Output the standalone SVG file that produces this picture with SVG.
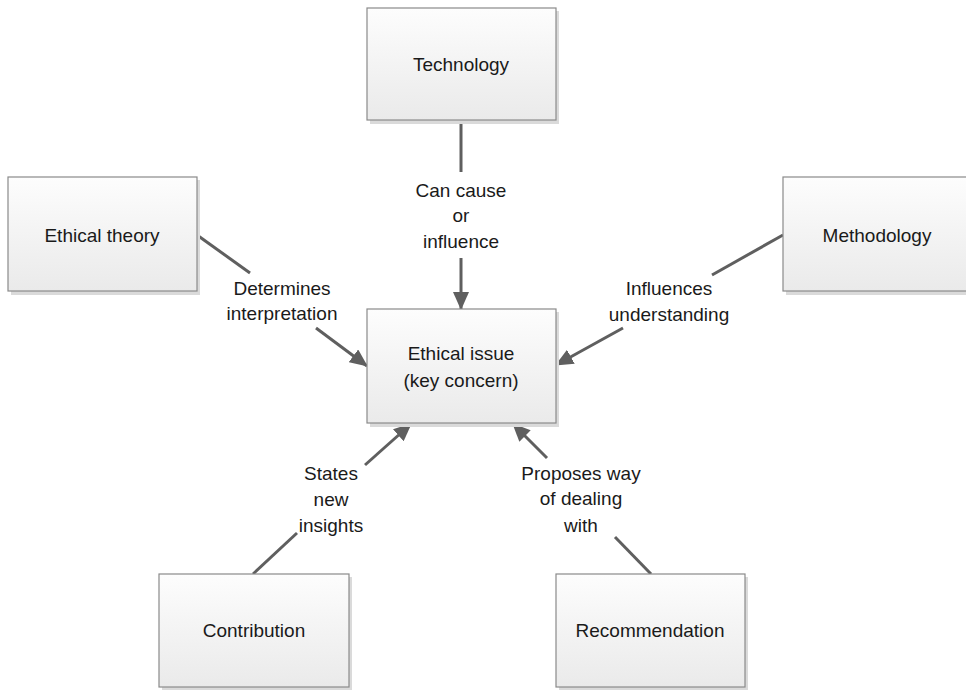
<svg xmlns="http://www.w3.org/2000/svg" width="966" height="690" viewBox="0 0 966 690">
<defs>
<linearGradient id="g" x1="0" y1="0" x2="0" y2="1">
<stop offset="0" stop-color="#fdfdfd"/>
<stop offset="1" stop-color="#eaeaea"/>
</linearGradient>
<marker id="arr" markerWidth="18" markerHeight="16" refX="17" refY="8" orient="auto" markerUnits="userSpaceOnUse">
<path d="M0,0 L18,8 L0,16 z" fill="#5f5f5f"/>
</marker>
<style>
.box{fill:url(#g);stroke:#8a8a8a;stroke-width:1.2}
.sh{fill:#dadada}
.t{font-family:"Liberation Sans",Arial,sans-serif;font-size:19px;fill:#1a1a1a;text-anchor:middle}
.c{stroke:#5f5f5f;stroke-width:3;fill:none}
</style>
</defs>
<g id="connectors">
<line class="c" x1="461" y1="120" x2="461" y2="172"/>
<line class="c" x1="461" y1="258" x2="461" y2="309" marker-end="url(#arr)"/>
<line class="c" x1="197" y1="235" x2="250" y2="273"/>
<line class="c" x1="316" y1="328" x2="367" y2="366" marker-end="url(#arr)"/>
<line class="c" x1="783" y1="235" x2="712" y2="275"/>
<line class="c" x1="623" y1="328" x2="556" y2="365" marker-end="url(#arr)"/>
<line class="c" x1="253" y1="574" x2="297" y2="533"/>
<line class="c" x1="365" y1="465" x2="411" y2="424" marker-end="url(#arr)"/>
<line class="c" x1="651" y1="574" x2="615" y2="537"/>
<line class="c" x1="547" y1="458" x2="513" y2="424" marker-end="url(#arr)"/>
</g>
<g id="labels">
<text class="t" x="461" y="197">Can cause</text>
<text class="t" x="461" y="222">or</text>
<text class="t" x="461" y="248">influence</text>
<text class="t" x="282" y="295">Determines</text>
<text class="t" x="282" y="320">interpretation</text>
<text class="t" x="669" y="295">Influences</text>
<text class="t" x="669" y="321">understanding</text>
<text class="t" x="331" y="480">States</text>
<text class="t" x="331" y="506">new</text>
<text class="t" x="331" y="532">insights</text>
<text class="t" x="581" y="480">Proposes way</text>
<text class="t" x="581" y="505">of dealing</text>
<text class="t" x="581" y="532">with</text>
</g>
<g id="technology">
<rect class="sh" x="370" y="11" width="189" height="113"/>
<rect class="box" x="367" y="8" width="189" height="112"/>
<text class="t" x="461" y="71">Technology</text>
</g>
<g id="ethical-issue">
<rect class="sh" x="370" y="312" width="189" height="115"/>
<rect class="box" x="367" y="309" width="189" height="114"/>
<text class="t" x="461" y="360">Ethical issue</text>
<text class="t" x="461" y="387">(key concern)</text>
</g>
<g id="ethical-theory">
<rect class="sh" x="11" y="180" width="189" height="115"/>
<rect class="box" x="8" y="177" width="189" height="114"/>
<text class="t" x="102" y="242">Ethical theory</text>
</g>
<g id="methodology">
<rect class="sh" x="786" y="180" width="189" height="115"/>
<rect class="box" x="783" y="177" width="189" height="114"/>
<text class="t" x="877" y="242">Methodology</text>
</g>
<g id="contribution">
<rect class="sh" x="162" y="577" width="190" height="114"/>
<rect class="box" x="159" y="574" width="190" height="113"/>
<text class="t" x="254" y="637">Contribution</text>
</g>
<g id="recommendation">
<rect class="sh" x="559" y="577" width="189" height="114"/>
<rect class="box" x="556" y="574" width="189" height="113"/>
<text class="t" x="650" y="637">Recommendation</text>
</g>
</svg>
